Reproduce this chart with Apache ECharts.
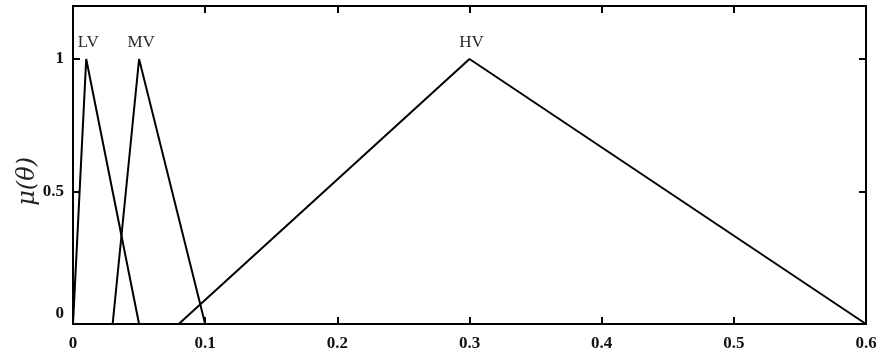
<!DOCTYPE html>
<html>
<head>
<meta charset="utf-8">
<script src="https://cdn.jsdelivr.net/npm/echarts@6/dist/echarts.min.js"></script>
<style>
  html, body { margin: 0; padding: 0; background: #fff; }
  #chart { width: 876px; height: 355px; }
</style>
</head>
<body>
<div id="chart"></div>
<script>
// Triangular membership functions for the fuzzy sets LV, MV and HV
const setNames = ['LV', 'MV', 'HV'];
const lvX = [0, 0.01, 0.05];
const lvY = [0, 1, 0];
const mvX = [0.03, 0.05, 0.1];
const mvY = [0, 1, 0];
const hvX = [0.08, 0.3, 0.6];
const hvY = [0, 1, 0];
const xTicks = [0, 0.1, 0.2, 0.3, 0.4, 0.5, 0.6];
const yTicks = [0, 0.5, 1];
const yTitle = 'μ(θ)';

const seriesXs = [lvX, mvX, hvX];
const seriesYs = [lvY, mvY, hvY];

const tickFont = {
  fontFamily: '"Liberation Serif", "Times New Roman", serif',
  fontWeight: 'bold',
  fontSize: 17,
  color: '#111'
};

function frameAxisLine() {
  return { show: true, onZero: false, lineStyle: { color: '#000', width: 2 } };
}

const series = setNames.map(function (name, i) {
  const xs = seriesXs[i];
  const ys = seriesYs[i];
  const pts = xs.map(function (x, k) { return [x, ys[k]]; });
  // peak of the triangle carries the set name
  let peak = 0;
  ys.forEach(function (v, k) { if (v > ys[peak]) peak = k; });
  return {
    name: name,
    type: 'line',
    data: pts,
    showSymbol: false,
    symbol: 'none',
    lineStyle: { color: '#000', width: 2 },
    animation: false,
    markPoint: {
      symbol: 'circle',
      symbolSize: 0,
      silent: true,
      data: [{ coord: pts[peak], value: name }],
      label: {
        show: true,
        position: 'top',
        distance: 8,
        offset: [2, 0],
        formatter: name,
        fontFamily: '"Liberation Serif", "Times New Roman", serif',
        fontSize: 17,
        color: '#2a2a2a'
      }
    }
  };
});

const chart = echarts.init(document.getElementById('chart'));
chart.setOption({
  backgroundColor: '#fff',
  animation: false,
  grid: { left: 73, right: 10, top: 6, bottom: 31, outerBoundsMode: 'none', containLabel: false },
  graphic: [{
    type: 'text',
    left: 16,
    top: 157,
    rotation: Math.PI / 2,
    originX: 0,
    originY: 0,
    style: {
      text: yTitle,
      font: 'italic 24px "DejaVu Serif", "Liberation Serif", serif',
      fill: '#222'
    }
  }],
  xAxis: [
    {
      type: 'value',
      position: 'bottom',
      min: xTicks[0],
      max: xTicks[xTicks.length - 1],
      interval: 0.1,
      axisLine: frameAxisLine(),
      axisTick: { show: true, inside: true, length: 7, lineStyle: { color: '#000', width: 2 } },
      axisLabel: Object.assign({ margin: 11 }, tickFont, {
        formatter: function (v) { return String(Math.round(v * 10) / 10); }
      }),
      splitLine: { show: false }
    },
    {
      type: 'value',
      position: 'top',
      min: xTicks[0],
      max: xTicks[xTicks.length - 1],
      interval: 0.1,
      axisLine: frameAxisLine(),
      axisTick: { show: true, inside: true, length: 7, lineStyle: { color: '#000', width: 2 } },
      axisLabel: { show: false },
      splitLine: { show: false }
    }
  ],
  yAxis: [
    {
      type: 'value',
      position: 'left',
      min: 0,
      max: 1.2,
      interval: 0.5,
      axisLine: frameAxisLine(),
      axisTick: { show: true, inside: true, length: 7, lineStyle: { color: '#000', width: 2 } },
      axisLabel: Object.assign({ margin: 9, showMaxLabel: false }, tickFont, {
        formatter: function (v) {
          if (yTicks.indexOf(v) < 0) return '';
          // the zero label sits a little above the bottom edge
          return v === 0 ? '{low|0}' : String(v);
        },
        rich: {
          low: Object.assign({ padding: [0, 0, 20, 0] }, tickFont)
        }
      }),
      splitLine: { show: false }
    },
    {
      type: 'value',
      position: 'right',
      min: 0,
      max: 1.2,
      interval: 0.5,
      axisLine: frameAxisLine(),
      axisTick: { show: true, inside: true, length: 7, lineStyle: { color: '#000', width: 2 } },
      axisLabel: { show: false },
      splitLine: { show: false }
    }
  ],
  series: series
});
</script>
</body>
</html>
